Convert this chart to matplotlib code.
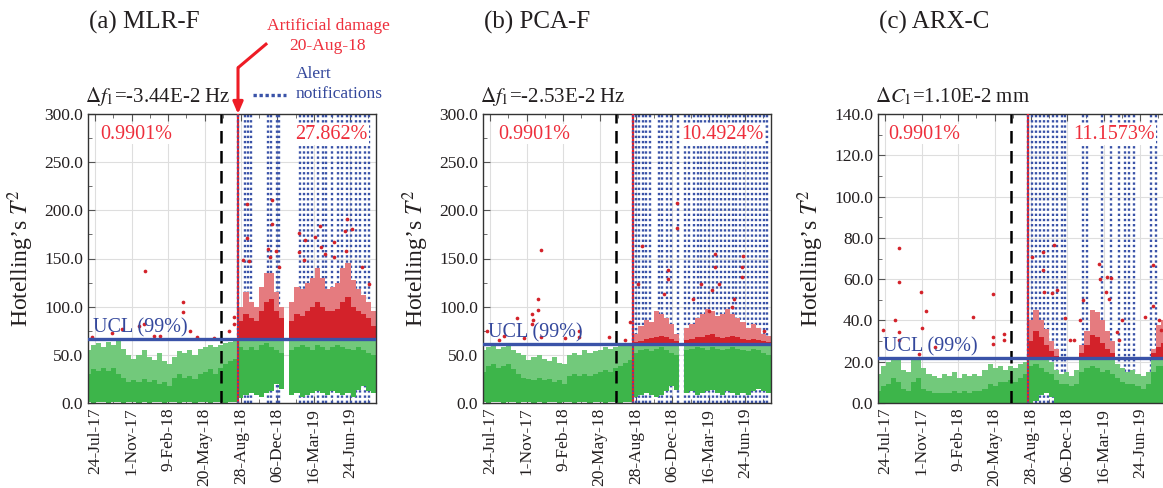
import numpy as np
import matplotlib.pyplot as plt
import matplotlib.transforms as mtransforms
from matplotlib.lines import Line2D
from matplotlib.ticker import MultipleLocator, FormatStrFormatter

plt.rcParams['font.family'] = ['Liberation Serif', 'DejaVu Serif']
plt.rcParams['mathtext.fontset'] = 'stix'

nan = np.nan

# x axis: days after 24-Jul-17
tick_days = [0, 100, 200, 300, 400, 500, 600, 700]
tick_labels = ['24-Jul-17', '1-Nov-17', '9-Feb-18', '20-May-18',
               '28-Aug-18', '06-Dec-18', '16-Mar-19', '24-Jun-19']
first_day, last_day = -20, 771
damage_day = 392      # 20-Aug-18
split_day = 346

# two-week bins of the T2 cloud, left edge of each bin in days
bin_left = np.arange(-27, 771, 14)
bin_width = 14

# ---- MLR-F ----
ucl_mlr = 66.0
green_low_mlr = [1, 0, 1, 1, 0, 1, 1, 0, 1, 1, 0, 1, 0, 1, 1, 0, 1, 1, 0, 1, 1, 0, 1, 1, 0, 1, 1, 0, 1, 1,
                 5, 8, 10, 8, 6, 10, 12, 20, 15, nan, 8, 10, 6, 8, 10, 12, 10, 8, 12, 10, 8, 10, 6, 14, 18, 12, 10]
green_mid_mlr = [30, 35, 33, 36, 33, 36, 30, 26, 22, 24, 22, 25, 22, 24, 20, 22, 18, 26, 30, 26, 28, 25, 30, 32, 35, 30, 36, 40, 44, 46,
                 58, 55, 58, 55, 60, 62, 58, 55, 52, nan, 55, 58, 60, 58, 55, 60, 58, 55, 58, 60, 58, 56, 55, 58, 55, 52, 50]
green_top_mlr = [55, 60, 62, 58, 63, 60, 64, 56, 50, 46, 50, 55, 48, 45, 52, 44, 40, 48, 54, 52, 55, 50, 56, 58, 60, 58, 60, 62, 63, 64,
                 65, 65, 65, 65, 65, 65, 65, 65, 65, nan, 65, 65, 65, 65, 65, 65, 65, 65, 65, 65, 65, 65, 65, 65, 65, 65, 65]
red_mid_mlr = [nan] * 30 + [85, 92, 88, 85, 95, 105, 108, 95, 88, nan,
                            85, 92, 90, 95, 100, 105, 100, 95, 95, 98, 105, 110, 100, 95, 92, 88, 80]
red_top_mlr = [nan] * 30 + [100, 115, 105, 100, 120, 135, 135, 115, 100, nan,
                            105, 120, 118, 125, 130, 140, 130, 118, 120, 125, 140, 145, 128, 118, 112, 105, 95]
out_day_mlr = [-9, 46, 73, 119, 133, 137, 160, 179, 240, 240, 261, 279, 325, 366, 380, 382,
               405, 417, 417, 421, 474, 479, 484, 485, 495, 505, 559, 559, 572, 577,
               604, 618, 621, 632, 655, 655, 687, 689, 691, 705, 733, 751]
out_val_mlr = [68, 73, 77, 80, 82, 137, 70, 70, 105, 94, 75, 69, 67, 75, 89, 82,
               148, 207, 171, 147, 160, 152, 211, 186, 158, 141, 176, 157, 148, 169,
               172, 184, 162, 155, 167, 152, 179, 158, 191, 181, 141, 124]
alerts_mlr = [392, 410, 419, 428, 474, 482, 498, 504, 563, 572, 584, 596, 611, 625, 634,
              650, 666, 678, 690, 703, 716, 728, 740, 751]

# ---- PCA-F ----
ucl_pca = 61.0
green_low_pca = [1, 0, 1, 1, 0, 1, 1, 0, 1, 1, 0, 1, 0, 1, 1, 0, 1, 1, 0, 1, 1, 0, 1, 1, 0, 1, 1, 0, 1, 1,
                 6, 8, 10, 8, 6, 8, 12, 18, 14, nan, 10, 12, 8, 10, 12, 14, 10, 8, 12, 10, 8, 10, 8, 12, 15, 12, 10]
green_mid_pca = [32, 38, 40, 36, 38, 40, 35, 30, 26, 25, 24, 26, 24, 25, 22, 24, 20, 28, 30, 28, 30, 28, 30, 32, 34, 32, 36, 38, 42, 45,
                 52, 55, 56, 54, 56, 58, 55, 52, 50, nan, 55, 56, 58, 57, 55, 58, 56, 55, 56, 58, 56, 55, 54, 56, 55, 52, 50]
green_top_pca = [55, 58, 60, 56, 58, 60, 55, 52, 50, 45, 48, 50, 46, 44, 48, 42, 40, 50, 52, 50, 55, 52, 54, 55, 58, 56, 58, 60, 60, 60,
                 60, 60, 60, 60, 60, 60, 60, 60, 60, nan, 60, 60, 60, 60, 60, 60, 60, 60, 60, 60, 60, 60, 60, 60, 60, 60, 60]
red_mid_pca = [nan] * 30 + [63, 64, 66, 67, 69, 70, 68, 66, 64, nan,
                            65, 66, 68, 69, 71, 72, 69, 67, 69, 70, 68, 66, 65, 66, 65, 64, 63]
red_top_pca = [nan] * 30 + [72, 80, 86, 84, 95, 92, 88, 82, 72, nan,
                            78, 82, 88, 92, 98, 96, 90, 92, 98, 92, 88, 84, 78, 82, 78, 72, 70]
out_day_pca = [-9, 23, 37, 73, 92, 115, 115, 116, 130, 130, 138, 140, 206, 243, 243, 325, 371, 385,
               405, 417, 476, 488, 488, 513, 513, 556, 580, 600,
               609, 618, 618, 627, 665, 669, 690, 692, 694, 751]
out_val_pca = [75, 65, 70, 88, 67, 92, 82, 86, 108, 97, 68, 159, 67, 75, 68, 68, 65, 84,
               124, 163, 113, 138, 129, 208, 182, 108, 124, 96,
               117, 155, 141, 124, 100, 108, 131, 141, 153, 75]
alerts_pca = [392, 399, 408, 419, 429, 440, 463, 472, 486, 495, 516, 536, 547, 559, 570, 580,
              591, 602, 612, 623, 634, 644, 655, 666, 676, 687, 698, 708, 719, 730, 742, 752, 761]

# ---- ARX-C ----
ucl_arx = 22.0
green_low_arx = [0, 0, 0, 0, 0, 0, 0, 0, 0, 0, 0, 0, 0, 0, 0, 0, 0, 0, 0, 0, 0, 0, 0, 0, 0, 0, 0, 0, 0, 0,
                 0, 1, 4, 5, 3, 0, 0, 0, 0, 0, 0, 0, 0, 0, 0, 0, 0, 0, 0, 0, 0, 0, 0, 0, 0, 0, 0]
green_mid_arx = [6, 8, 9, 12, 10, 7, 6, 10, 12, 7, 6, 5, 5, 5, 5, 6, 5, 6, 5, 6, 6, 7, 9, 8, 10, 10, 11, 10, 12, 14,
                 18, 19, 17, 15, 14, 11, 9, 9, 8, 9, 15, 17, 18, 17, 15, 16, 14, 12, 10, 9, 9, 8, 7, 9, 15, 18, 18]
green_top_arx = [14, 18, 20, 21.5, 21, 16, 15, 21, 21.5, 17, 14, 13, 12, 14, 13, 15, 12, 14, 13, 14, 13, 16, 19, 17, 18, 16, 18, 17, 19, 20,
                 21.5, 21.5, 21.5, 21, 20, 16, 14, 15, 13, 16, 21, 21.5, 21.5, 21.5, 21, 21.5, 21, 19, 17, 15, 16, 14, 13, 15, 21, 21.5, 21.5]
red_mid_arx = [nan] * 30 + [30, 35, 32, 28, 25, 23, nan, nan, nan, nan, 24, 28, 33, 32, 29, 26, 24,
                            nan, nan, nan, nan, nan, nan, nan, 24, 27, 29]
red_top_arx = [nan] * 30 + [40, 45, 40, 36, 30, 26, nan, nan, nan, nan, 28, 35, 45, 44, 40, 35, 30,
                            nan, nan, nan, nan, nan, nan, nan, 26, 38, 40]
out_day_arx = [-7, 26, 37, 37, 39, 39, 92, 98, 101, 112, 137, 241, 295, 295, 296, 325, 325,
               403, 432, 432, 435, 458, 463, 472, 493, 508, 517, 536, 542, 586, 591, 605,
               609, 614, 621, 637, 641, 650, 714, 736, 736, 751, 756]
out_val_arx = [35.3, 40.4, 34.4, 30.4, 74.9, 58.7, 23.9, 53.8, 36.1, 44.6, 27.2, 41.7, 32.0, 28.8, 52.6, 33.6, 30.4,
               70.8, 73.2, 64.4, 53.8, 53.4, 76.5, 54.7, 41.4, 30.4, 30.4, 40.4, 50.1, 67.3, 60.3, 53.8,
               60.8, 50.6, 60.6, 34.4, 30.4, 40.1, 41.7, 66.8, 46.9, 40.1, 35.3]
alerts_arx = [392, 403, 414, 426, 435, 447, 461, 472, 484, 494, 542, 554, 595, 621, 643,
              658, 670, 684, 729, 743]

GREEN = '#3db54a'
GREEN_SPARSE = '#72c97b'
RED = '#d3222a'
RED_SPARSE = '#e57b7f'
RED_TXT = '#ee2f3c'
BLUE = '#3a53a8'
BLUE_TXT = '#34489c'
INK = '#231f20'

fig = plt.figure(figsize=(11.63, 4.88), dpi=100)


def bars(ax, lo, hi, **kw):
    lo = np.asarray(lo, float)
    hi = np.asarray(hi, float)
    ok = np.isfinite(lo) & np.isfinite(hi)
    ax.bar(bin_left[ok], hi[ok] - lo[ok], bottom=lo[ok], width=bin_width,
           align='edge', linewidth=0, **kw)


def panel(left, title, delta, ymax, ystep, ucl, g_low, g_mid, g_top, r_mid, r_top,
          out_day, out_val, alerts, pct_left, pct_right, xl, xr):
    ax = fig.add_axes([left, 85 / 488, 288 / 1163, 289 / 488])
    for d in alerts:
        ax.axvline(d, color=BLUE, lw=1.7, ls=(0, (1, 1.2)), zorder=1)

    # green: dense core + scattered fringe below the UCL
    bars(ax, g_low, g_mid, color=GREEN, zorder=2)
    bars(ax, g_mid, g_top, color=GREEN_SPARSE, zorder=2)
    # red: exceedances above the UCL
    base = [ucl] * len(bin_left)
    bars(ax, base, r_mid, color=RED, zorder=2)
    bars(ax, r_mid, r_top, color=RED_SPARSE, zorder=2)
    ax.scatter(out_day, out_val, s=7, color=RED, linewidths=0, zorder=3)

    ax.axvline(split_day, color='black', lw=1.8, ls=(0, (5, 3)), zorder=4)
    ax.axvline(damage_day, color='#ee1c25', lw=1.6, zorder=4)
    ax.axvline(damage_day, color=BLUE, lw=1.2, ls=(0, (1, 1.2)), zorder=4)
    ax.axhline(ucl, color=BLUE, lw=2.4, zorder=5)

    ax.set_xlim(first_day, last_day)
    ax.set_ylim(0, ymax)
    ax.set_xticks(tick_days)
    ax.set_xticklabels(tick_labels, rotation=90, fontsize=12.5, color=INK)
    ax.xaxis.set_minor_locator(MultipleLocator(50))
    ax.yaxis.set_major_locator(MultipleLocator(ystep))
    ax.yaxis.set_minor_locator(MultipleLocator(ystep / 2))
    ax.yaxis.set_major_formatter(FormatStrFormatter('%.1f'))
    ax.tick_params(which='both', direction='in', top=True, labelsize=12.5,
                   colors='#555555', labelcolor=INK)
    ax.tick_params(which='major', length=5)
    ax.tick_params(which='minor', length=3)
    ax.grid(True, which='major', color='#dedede', lw=0.8, zorder=0)
    ax.set_axisbelow(True)
    for sp in ax.spines.values():
        sp.set_color('#333333')
        sp.set_linewidth(1.0)
    ax.set_ylabel("Hotelling\u2019s $T^2$", fontsize=17, color=INK, labelpad=6)

    ax.text(xl, 0.93, pct_left, transform=ax.transAxes, fontsize=14.5, color=RED_TXT,
            ha='left', va='center', zorder=6,
            bbox=dict(facecolor='white', edgecolor='none', pad=0.5))
    ax.text(xr, 0.93, pct_right, transform=ax.transAxes, fontsize=14.5, color=RED_TXT,
            ha='right', va='center', zorder=6,
            bbox=dict(facecolor='white', edgecolor='none', pad=1.0))
    blend = mtransforms.blended_transform_factory(ax.transAxes, ax.transData)
    ax.text(0.018, ucl + ymax * 0.005, 'UCL (99%)', transform=blend, fontsize=14.5,
            color=BLUE_TXT, ha='left', va='bottom', zorder=6)
    ax.text(-0.01, 1.06, delta, transform=ax.transAxes, fontsize=15, color=INK,
            ha='left', va='center')
    fig.text(left + 0.001, 0.953, title, fontsize=18, color=INK, ha='left', va='center')
    return ax


ax_a = panel(88 / 1163, '(a) MLR-F', r'$\Delta f_1$=-3.44E-2 Hz', 300, 50, ucl_mlr,
             green_low_mlr, green_mid_mlr, green_top_mlr, red_mid_mlr, red_top_mlr,
             out_day_mlr, out_val_mlr, alerts_mlr, '0.9901%', '27.862%', 0.042, 0.972)
panel(483 / 1163, '(b) PCA-F', r'$\Delta f_1$=-2.53E-2 Hz', 300, 50, ucl_pca,
      green_low_pca, green_mid_pca, green_top_pca, red_mid_pca, red_top_pca,
      out_day_pca, out_val_pca, alerts_pca, '0.9901%', '10.4924%', 0.052, 0.976)
panel(878 / 1163, '(c) ARX-C', r'$\Delta C_1$=1.10E-2 mm', 140, 20, ucl_arx,
      green_low_arx, green_mid_arx, green_top_arx, red_mid_arx, red_top_arx,
      out_day_arx, out_val_arx, alerts_arx, '0.9901%', '11.1573%', 0.035, 0.962)

# damage marker above the first panel
top = mtransforms.blended_transform_factory(ax_a.transData, ax_a.transAxes)
ax_a.annotate('', xy=(damage_day, 1.0), xycoords=top,
              xytext=(damage_day, 1.16), textcoords=top,
              arrowprops=dict(arrowstyle='-|>,head_length=0.7,head_width=0.3',
                              color='#ee1c25', lw=2.2, shrinkA=0, shrinkB=0),
              annotation_clip=False)
ax_a.plot([damage_day, 472], [1.16, 1.245], transform=top, color='#ee1c25', lw=2.2,
          clip_on=False, solid_capstyle='butt')
fig.text(328 / 1163, 1 - 36 / 488, 'Artificial damage\n20-Aug-18', fontsize=12.6,
         color=RED_TXT, ha='center', va='center', linespacing=1.25)

# legend for the alert lines
fig.text(296 / 1163, 1 - 84 / 488, 'Alert\nnotifications', fontsize=12.5,
         color=BLUE_TXT, ha='left', va='center', linespacing=1.25)
fig.add_artist(Line2D([253 / 1163, 286 / 1163], [1 - 95 / 488, 1 - 95 / 488],
                      transform=fig.transFigure, color=BLUE, lw=2.4,
                      ls=(0, (1, 0.8))))

fig.savefig('out.png', dpi=100)
